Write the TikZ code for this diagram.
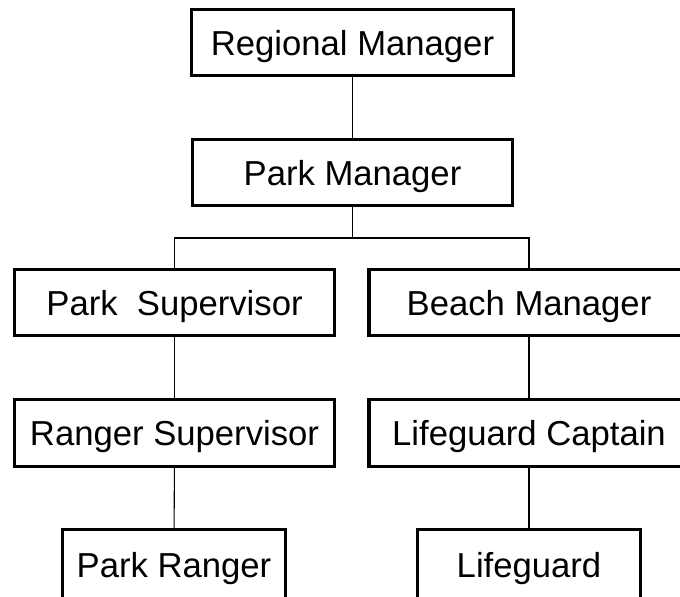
\documentclass[tikz,border=0pt]{standalone}
\usepackage{fontspec}
\setmainfont{Liberation Sans}
\tikzset{every picture/.style={/utils/exec={\fontsize{26}{30}\selectfont}}}
\usetikzlibrary{positioning}

\tikzset{
  job/.style={draw, line width=2.4pt, inner sep=0pt, minimum height=50pt,
    text height=18.8pt, text depth=0pt},
  wide/.style={job, minimum width=240pt},
  narrow/.style={job, minimum width=167pt, minimum height=52pt},
  link/.style={line width=0.8pt}
}

\begin{document}
\begin{tikzpicture}[x=0.75pt,y=-0.75pt]
  \useasboundingbox (0,0) rectangle (680,596);

  \node [wide, minimum width=242pt] (regional) at (352.5,42.5) {Regional Manager};
  \node [wide, minimum height=49pt] (park) at (352.5,172.5) {Park Manager};

  \node [wide] (parksup) at (174.5,302.5) {Park\ \ Supervisor};
  \node [wide] (beach) at (529,302.5) {Beach Manager};

  \node [wide] (rangersup) at (174.5,433) {Ranger Supervisor};
  \node [wide] (captain) at (529,433) {Lifeguard Captain};

  \node [narrow] (ranger) at (174,564.5) {Park Ranger};
  \node [narrow] (guard) at (529,564.5) {Lifeguard};

  % connectors
  \coordinate (split) at (352.5,238);
  \draw [link] (regional) -- (park);
  \draw [link] (park) -- (split);
  \draw [link] (parksup.north) |- (split) -| (beach.north);
  \draw [link] (parksup) -- (rangersup);
  \draw [link] (rangersup) -- (ranger);
  \draw [link] (beach) -- (captain);
  \draw [link] (captain) -- (guard);
\end{tikzpicture}
\end{document}
